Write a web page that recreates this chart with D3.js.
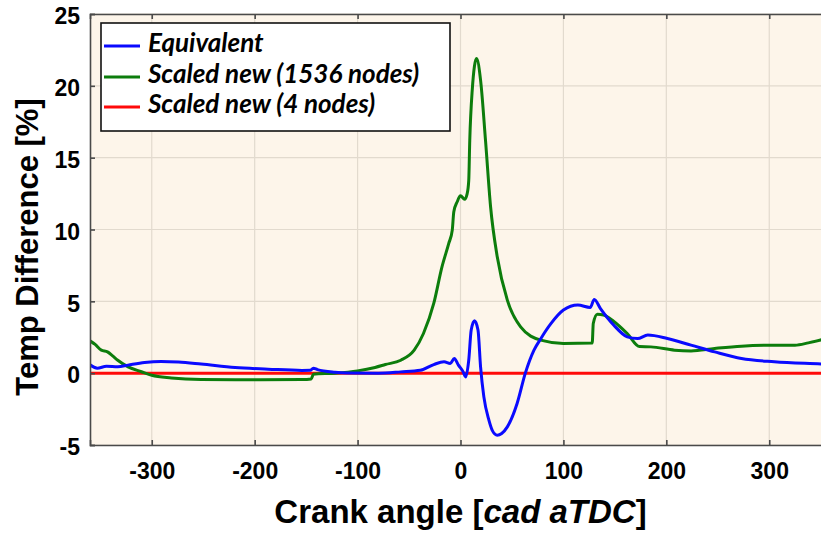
<!DOCTYPE html>
<html>
<head>
<meta charset="utf-8">
<script src="https://cdn.jsdelivr.net/npm/d3@7"></script>
<style>
  body { margin: 0; background: #fff; }
  svg { display: block; }
</style>
</head>
<body>
<div id="chart"></div>
<script>
// SVG SIZE
var width = 821;
var height = 533;

// axis ticks
var xTicks = [-300, -200, -100, 0, 100, 200, 300];
var yTicks = [-5, 0, 5, 10, 15, 20, 25];

// Equivalent (blue)
var equivAngle = [-360, -353, -344, -333, -323, -307, -291, -274, -252, -219, -187, -154, -146, -143, -139, -122, -110, -80, -58, -39, -26, -16, -10, -6, -2, 2.6, 5, 8, 10.4, 13.6, 17, 19.5, 22.7, 27.6, 31, 35.7, 40, 45.5, 55, 63, 71.4, 78, 88, 100, 114, 126, 130, 136, 149, 162, 172, 182, 201, 224, 247, 273, 305, 352, 360];
var equivValue = [0.58, 0.35, 0.48, 0.44, 0.56, 0.74, 0.81, 0.77, 0.63, 0.39, 0.28, 0.19, 0.2, 0.35, 0.25, 0.07, 0.02, 0.0, 0.09, 0.2, 0.6, 0.79, 0.67, 1.02, 0.56, 0.09, -0.26, 0.9, 3.0, 3.64, 3.0, 0.44, -1.65, -3.27, -4.0, -4.32, -4.2, -3.74, -2.11, 0.0, 1.6, 2.4, 3.46, 4.39, 4.74, 4.57, 5.13, 4.5, 3.34, 2.53, 2.41, 2.65, 2.41, 1.95, 1.48, 1.02, 0.79, 0.63, 0.6];

// Scaled new, 1536 nodes (green)
var nodes1536Angle = [-360, -355, -349, -343, -338, -333, -323, -310, -300, -281, -252, -203, -154, -145, -143, -122, -100, -83, -73, -58, -45, -36, -26, -18, -11.4, -8, -6.5, -3.2, 0, 4, 6.5, 8, 9, 11.4, 15.6, 19.5, 24.3, 29.2, 35.7, 45.5, 58.4, 78, 100, 128, 129, 133, 139, 149, 162, 174, 185, 208, 224, 247, 273, 305, 325, 338, 352, 360];
var nodes1536Value = [2.25, 2.0, 1.6, 1.48, 1.2, 0.9, 0.44, 0.1, -0.15, -0.33, -0.44, -0.46, -0.44, -0.4, -0.07, 0.0, 0.16, 0.4, 0.6, 0.9, 1.6, 2.76, 4.85, 7.4, 9.03, 9.96, 11.23, 11.93, 12.35, 12.1, 12.5, 13.4, 16.2, 19.7, 21.9, 20.4, 16.2, 11.6, 8.1, 5.08, 3.22, 2.3, 2.07, 2.1, 3.46, 4.1, 4.05, 3.6, 2.76, 1.85, 1.83, 1.6, 1.55, 1.72, 1.88, 1.95, 1.95, 2.11, 2.35, 2.55];

// Scaled new, 4 nodes (red)
var nodes4Angle = [-360, 360];
var nodes4Value = [0, 0];

var series = [
  { name: 'Equivalent', color: '#0a0aff', x: equivAngle, y: equivValue },
  { name: 'Scaled new (1536 nodes)', color: '#0c7d0c', x: nodes1536Angle, y: nodes1536Value },
  { name: 'Scaled new (4 nodes)', color: '#ff0a0a', x: nodes4Angle, y: nodes4Value }
];

var plot = { left: 90, right: 831, top: 14, bottom: 445 };

var svg = d3.select('#chart')
  .append('svg')
  .attr('width', width)
  .attr('height', height);

var x = d3.scaleLinear().domain([-360, 360]).range([plot.left, plot.right]);
var y = d3.scaleLinear().domain([-5, 25]).range([plot.bottom, plot.top]);

svg.append('defs').append('clipPath').attr('id', 'plotclip')
  .append('rect')
  .attr('x', plot.left).attr('y', plot.top)
  .attr('width', plot.right - plot.left).attr('height', plot.bottom - plot.top);

// background
svg.append('rect')
  .attr('x', plot.left).attr('y', plot.top)
  .attr('width', plot.right - plot.left).attr('height', plot.bottom - plot.top)
  .attr('fill', '#fdf5ea');

// grid
var grid = svg.append('g').attr('stroke', '#e2dace').attr('stroke-width', 1.2);
grid.selectAll('.gx').data(xTicks).enter().append('line')
  .attr('x1', (d) => x(d)).attr('x2', (d) => x(d))
  .attr('y1', plot.top).attr('y2', plot.bottom);
grid.selectAll('.gy').data(yTicks).enter().append('line')
  .attr('x1', plot.left).attr('x2', plot.right)
  .attr('y1', (d) => y(d)).attr('y2', (d) => y(d));

// lines
var line = d3.line()
  .x((d) => x(d[0]))
  .y((d) => y(d[1]))
  .curve(d3.curveMonotoneX);

var lines = svg.append('g').attr('clip-path', 'url(#plotclip)');
series.slice().reverse().forEach(function (s) {
  var pts = s.x.map((a, i) => [a, s.y[i]]);
  lines.append('path')
    .datum(pts)
    .attr('fill', 'none')
    .attr('stroke', s.color)
    .attr('stroke-width', 3)
    .attr('stroke-linejoin', 'round')
    .attr('d', line);
});

// axes (plain hyphen for negatives, like the original)
var fmt = (d) => String(d);
var axisColor = '#4a4a4a';
var xAxis = svg.append('g')
  .attr('transform', 'translate(0,' + plot.bottom + ')')
  .call(d3.axisBottom(x).tickValues(xTicks).tickSize(-5).tickFormat(fmt));
var xAxisTop = svg.append('g')
  .attr('transform', 'translate(0,' + plot.top + ')')
  .call(d3.axisTop(x).tickValues(xTicks).tickSize(-5).tickFormat(''));
var yAxis = svg.append('g')
  .attr('transform', 'translate(' + plot.left + ',0)')
  .call(d3.axisLeft(y).tickValues(yTicks).tickSize(-5).tickPadding(10).tickFormat(fmt));

[xAxis, xAxisTop, yAxis].forEach(function (g) {
  g.select('.domain').attr('stroke', axisColor).attr('stroke-width', 1.6);
  g.selectAll('.tick line').attr('stroke', axisColor).attr('stroke-width', 1.6);
  g.selectAll('.tick text')
    .attr('fill', '#000')
    .style('font-family', '"Liberation Sans", Arial, sans-serif')
    .style('font-weight', 'bold')
    .style('font-size', '23px');
});
xAxis.selectAll('.tick text').attr('dy', '0.71em').attr('y', 18);
yAxis.selectAll('.tick text').attr('dy', '0.42em');

// axis titles
svg.append('text')
  .attr('transform', 'translate(38,247) rotate(-90)')
  .attr('text-anchor', 'middle')
  .style('font-family', '"Liberation Sans", Arial, sans-serif')
  .style('font-weight', 'bold')
  .style('font-size', '31px')
  .text('Temp Difference [%]');

var xt = svg.append('text')
  .attr('x', 460.5).attr('y', 523)
  .attr('text-anchor', 'middle')
  .style('font-family', '"Liberation Sans", Arial, sans-serif')
  .style('font-weight', 'bold')
  .style('font-size', '33px');
xt.append('tspan').text('Crank angle [');
xt.append('tspan').style('font-style', 'italic').text('cad aTDC');
xt.append('tspan').text(']');

// legend
var legend = svg.append('g');
legend.append('rect')
  .attr('x', 101).attr('y', 23)
  .attr('width', 349).attr('height', 108)
  .attr('fill', '#fff')
  .attr('stroke', '#111')
  .attr('stroke-width', 1.6);

var rowY = [46, 77, 107];
series.forEach(function (s, i) {
  legend.append('line')
    .attr('x1', 104).attr('x2', 140)
    .attr('y1', rowY[i]).attr('y2', rowY[i])
    .attr('stroke', s.color)
    .attr('stroke-width', 3);
  legend.append('text')
    .attr('x', 148).attr('y', rowY[i] + 6)
    .style('font-family', 'Lato, "Open Sans", sans-serif')
    .style('font-weight', 'bold')
    .style('font-style', 'italic')
    .style('font-size', '26px')
    .text(s.name);
});
</script>
</body>
</html>
